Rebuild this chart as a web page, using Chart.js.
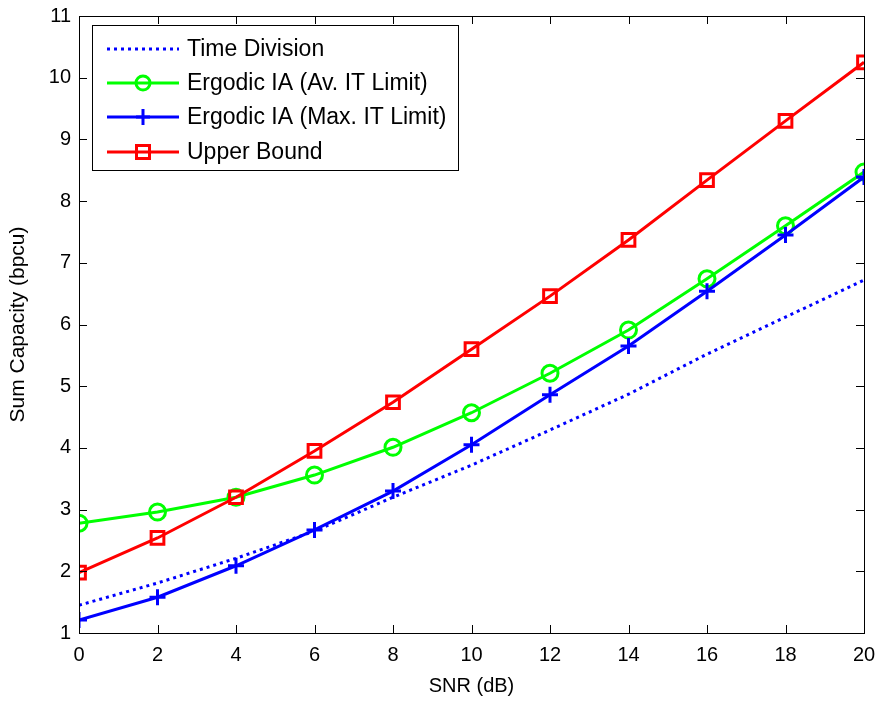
<!DOCTYPE html>
<html>
<head>
<meta charset="utf-8">
<script src="https://cdn.jsdelivr.net/npm/chart.js@4"></script>
<style>
html,body{margin:0;padding:0;background:#fff;}
#wrap{width:880px;height:702px;}
</style>
</head>
<body>
<div id="wrap"><canvas id="c" width="880" height="702"></canvas></div>
<script>
// data
const snr=[0,2,4,6,8,10,12,14,16,18,20];
const timeDiv=[1.45,1.81,2.21,2.65,3.2,3.72,4.29,4.87,5.52,6.12,6.72];
const iaAv=[2.78,2.96,3.2,3.56,4.01,4.57,5.21,5.91,6.74,7.6,8.47];
const iaMax=[1.21,1.58,2.09,2.67,3.3,4.05,4.86,5.65,6.54,7.45,8.39];
const upper=[1.98,2.54,3.2,3.95,4.74,5.6,6.46,7.37,8.34,9.3,10.25];
const names=["Time Division","Ergodic IA (Av. IT Limit)","Ergodic IA (Max. IT Limit)","Upper Bound"];

const FONT="'Liberation Sans', Arial, sans-serif";

function pts(ys){return snr.map((x,i)=>({x:x,y:ys[i]}));}

// MATLAB-style box + inward ticks
const boxPlugin={
id:"box",
afterDraw(chart){
const ctx=chart.ctx, a=chart.chartArea;
const xs=chart.scales.x, ys=chart.scales.y;
ctx.save();
ctx.strokeStyle="#000";
ctx.lineWidth=1;
ctx.beginPath();
for(let v=0;v<=20;v+=2){
const px=Math.round(xs.getPixelForValue(v))+0.5;
ctx.moveTo(px,a.bottom);ctx.lineTo(px,a.bottom-8);
ctx.moveTo(px,a.top);ctx.lineTo(px,a.top+8);
}
for(let v=1;v<=11;v++){
const py=Math.round(ys.getPixelForValue(v))+0.5;
ctx.moveTo(a.left,py);ctx.lineTo(a.left+8,py);
ctx.moveTo(a.right,py);ctx.lineTo(a.right-8,py);
}
ctx.stroke();
ctx.strokeRect(Math.round(a.left)+0.5,Math.round(a.top)+0.5,Math.round(a.right-a.left),Math.round(a.bottom-a.top));
ctx.restore();
}
};

// legend drawn inside the axes, line with marker in the middle
const legendPlugin={
id:"innerLegend",
afterDraw(chart){
const ctx=chart.ctx;
const bx=92.5,by=25.5,bw=366,bh=145;
ctx.save();
ctx.fillStyle="#fff";
ctx.fillRect(bx,by,bw,bh);
ctx.strokeStyle="#000";ctx.lineWidth=1;
ctx.strokeRect(bx,by,bw,bh);
const rows=[49,83,117,152];
ctx.font="23px "+FONT;
ctx.textBaseline="middle";
chart.data.datasets.forEach((ds,i)=>{
const y=rows[i];
ctx.strokeStyle=ds.borderColor;
ctx.lineWidth=ds.borderWidth;
ctx.setLineDash(ds.borderDash||[]);
ctx.beginPath();ctx.moveTo(107,y);ctx.lineTo(179,y);ctx.stroke();
ctx.setLineDash([]);
const mx=143;
ctx.lineWidth=3;
if(ds.pointStyle==="circle"&&ds.pointRadius>0){
ctx.beginPath();ctx.arc(mx,y,7,0,Math.PI*2);ctx.stroke();
}else if(ds.pointStyle==="rect"){
ctx.strokeRect(mx-6.5,y-6.5,13,13);
}else if(ds.pointStyle==="cross"){
ctx.beginPath();ctx.moveTo(mx-7,y);ctx.lineTo(mx+7,y);ctx.moveTo(mx,y-8);ctx.lineTo(mx,y+8);ctx.stroke();
}
ctx.fillStyle="#000";
ctx.fillText(ds.label,187,y+1);
});
ctx.restore();
}
};

new Chart(document.getElementById("c"),{
type:"line",
data:{datasets:[
{label:names[0],data:pts(timeDiv),borderColor:"#0000ff",borderWidth:3,borderDash:[3,4],pointRadius:0,pointStyle:"circle",fill:false,order:4},
{label:names[1],data:pts(iaAv),borderColor:"#00ff00",backgroundColor:"rgba(0,0,0,0)",borderWidth:3,pointStyle:"circle",pointRadius:8,pointBorderWidth:3,fill:false,order:3},
{label:names[2],data:pts(iaMax),borderColor:"#0000ff",backgroundColor:"rgba(0,0,0,0)",borderWidth:3,pointStyle:"cross",pointRadius:8,pointBorderWidth:3,fill:false,order:2},
{label:names[3],data:pts(upper),borderColor:"#ff0000",backgroundColor:"rgba(0,0,0,0)",borderWidth:3,pointStyle:"rect",pointRadius:9,pointBorderWidth:3,fill:false,order:1}
]},
options:{
responsive:false,
animation:false,
events:[],
layout:{padding:{left:0,right:16,top:16,bottom:0}},
plugins:{legend:{display:false},tooltip:{enabled:false}},
scales:{
x:{type:"linear",min:0,max:20,
ticks:{stepSize:2,color:"#000",font:{family:FONT,size:20},padding:10},
grid:{display:false,drawTicks:false},
border:{display:false},
title:{display:true,text:"SNR (dB)",color:"#000",font:{family:FONT,size:20},padding:{top:2,bottom:4}},
afterFit(s){s.height=69;s.paddingLeft=0;s.paddingRight=0;}
},
y:{type:"linear",min:1,max:11,
ticks:{stepSize:1,color:"#000",font:{family:FONT,size:20},padding:8},
grid:{display:false,drawTicks:false},
border:{display:false},
title:{display:true,text:"Sum Capacity (bpcu)",color:"#000",font:{family:FONT,size:21},padding:{top:6,bottom:4}},
afterFit(s){s.width=79;s.paddingTop=0;s.paddingBottom=0;}
}
}
},
plugins:[boxPlugin,legendPlugin]
});
</script>
</body>
</html>
